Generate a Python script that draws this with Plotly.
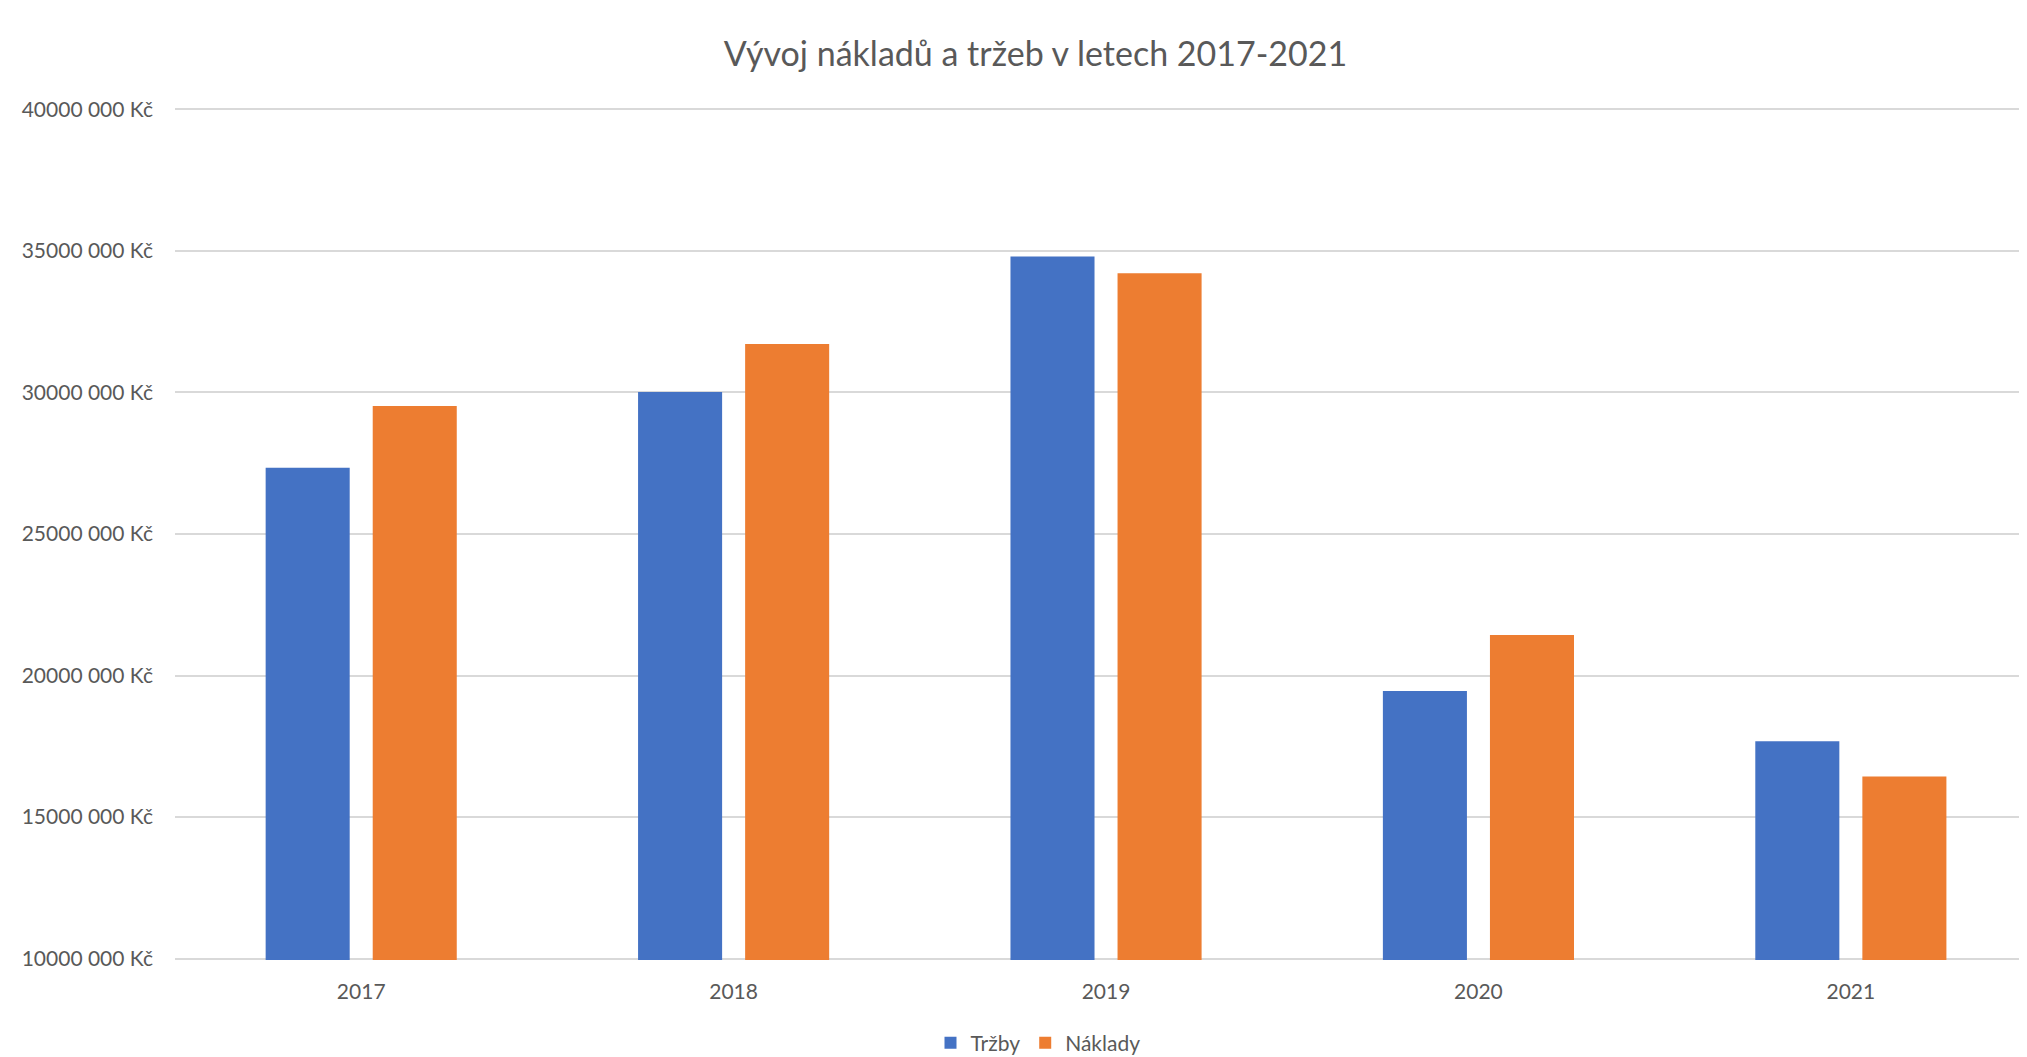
import plotly.graph_objects as go

years = ["2017", "2018", "2019", "2020", "2021"]
trzby = [27_340_000, 30_020_000, 34_800_000, 19_450_000, 17_680_000]
naklady = [29_520_000, 31_710_000, 34_210_000, 21_430_000, 16_430_000]
tick_vals = [10_000_000, 15_000_000, 20_000_000, 25_000_000, 30_000_000, 35_000_000, 40_000_000]
tick_text = ["10000 000 Kč", "15000 000 Kč", "20000 000 Kč", "25000 000 Kč",
             "30000 000 Kč", "35000 000 Kč", "40000 000 Kč"]

FONT = "Lato"
TXT = "#595959"

# page has an 8px body margin; figure is sized so it fits the 2027x1057 window
W, H = 2019, 1049

fig = go.Figure()
fig.add_trace(go.Bar(name="Tržby", x=years, y=trzby, marker=dict(color="#4472C4", line=dict(width=0))))
fig.add_trace(go.Bar(name="Náklady", x=years, y=naklady, marker=dict(color="#ED7D31", line=dict(width=0))))

fig.update_layout(
    width=W, height=H,
    paper_bgcolor="white", plot_bgcolor="white",
    margin=dict(l=167, r=0, t=100, b=97, autoexpand=False),
    barmode="group", bargap=0.425, bargroupgap=0.215,
    font=dict(family=FONT, color=TXT, size=21),
    title=dict(text="Vývoj nákladů a tržeb v letech 2017-2021", x=1027.5 / W, xanchor="center",
               xref="container",
               y=1 - 46 / H, yanchor="middle", yref="container",
               font=dict(family=FONT, size=34, color=TXT)),
    legend=dict(orientation="h", x=1030 / W, xanchor="center", xref="container",
                y=1 - 1035 / H, yanchor="middle", yref="container",
                font=dict(family=FONT, size=21, color=TXT), itemwidth=30),
    showlegend=True,
)
fig.update_yaxes(range=[9_950_000, 40_050_000], tickvals=tick_vals, ticktext=tick_text,
                 showgrid=True, gridcolor="#D9D9D9", gridwidth=2, zeroline=False,
                 showline=False, ticks="", ticklabelstandoff=21,
                 tickfont=dict(family=FONT, size=21, color=TXT))
fig.update_xaxes(range=[-0.5, 4.473], showgrid=False, showline=False, ticks="", ticklabelstandoff=17,
                 tickfont=dict(family=FONT, size=21, color=TXT))

fig.write_html("out.html")
